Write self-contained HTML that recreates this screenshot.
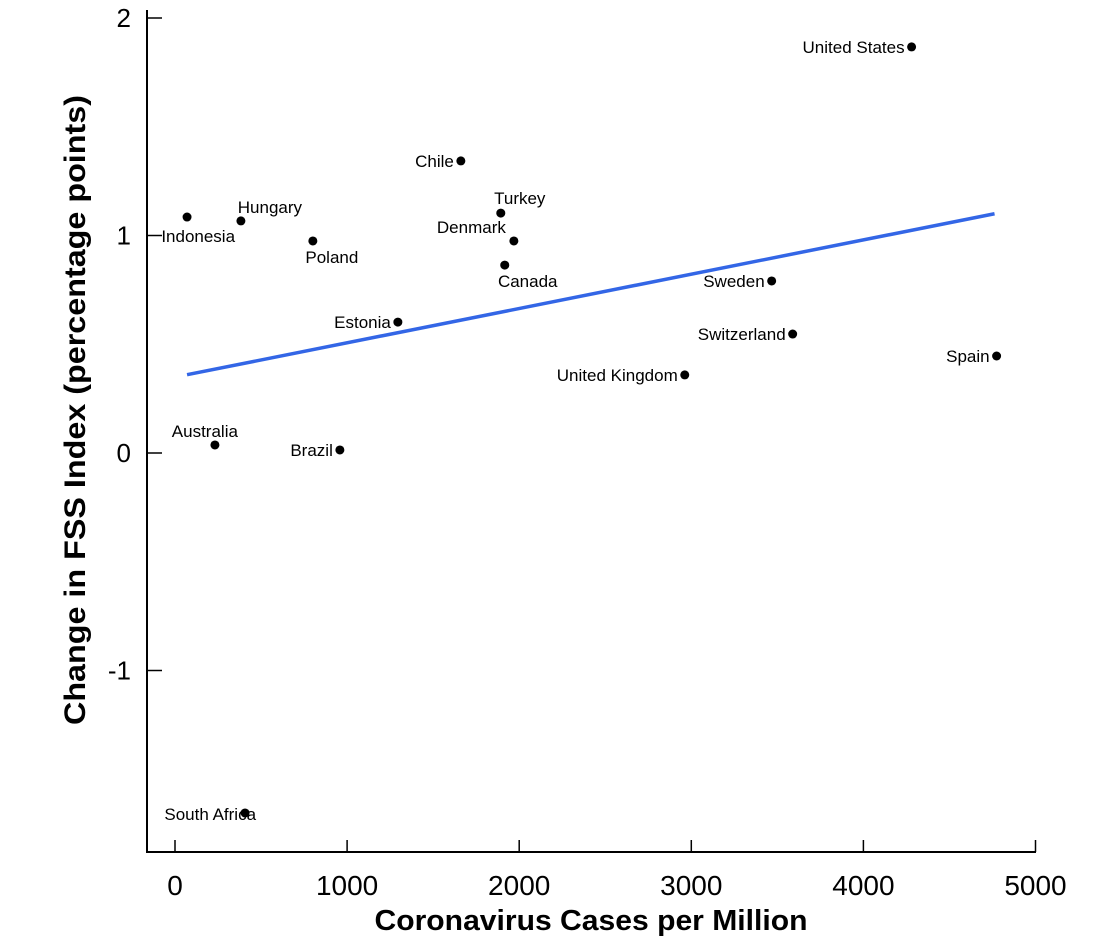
<!DOCTYPE html>
<html><head><meta charset="utf-8"><style>
body{margin:0;background:#fff}
svg{display:block;font-family:"Liberation Sans",Arial,sans-serif}
</style></head><body>
<svg id="chart" width="1100" height="948"></svg>
<script>
const countries=["United States","Chile","Turkey","Denmark","Canada","Indonesia","Hungary","Poland","Estonia","Sweden","Switzerland","Spain","United Kingdom","Australia","Brazil","South Africa"];
const casesPerMillion=[4280,1661,1893,1969,1916,70,383,801,1295,3467,3589,4774,2962,232,958,407];
const fssChange=[1.867,1.343,1.103,0.975,0.864,1.085,1.067,0.975,0.602,0.791,0.547,0.446,0.359,0.037,0.014,-1.655];
const labelPlace=["left","left","above","aboveleft","below","belowleft","above","below","left","left","left","left","left","aboveleft","left","left"];
const xTicks=[0,1000,2000,3000,4000,5000];
const yTicks=[2,1,0,-1];
const trendX=[70,4762];
const trendY=[0.36,1.10];

const NS="http://www.w3.org/2000/svg";
const svg=document.getElementById('chart');
const sx=v=>175+v*0.1721;
const sy=v=>453-v*217.5;
function mk(tag,attrs,parent){const e=document.createElementNS(NS,tag);for(const k in attrs)e.setAttribute(k,attrs[k]);(parent||svg).appendChild(e);return e;}

const ax=mk('line',{x1:147,y1:10,x2:147,y2:852,stroke:'#000','stroke-width':2});


const axx=mk('line',{x1:146,y1:852,x2:1036,y2:852,stroke:'#000','stroke-width':2});



xTicks.forEach(t=>{
  const l=mk('line',{x1:sx(t),y1:840,x2:sx(t),y2:852,stroke:'#000','stroke-width':1.5});
  
  
  const tx=mk('text',{x:sx(t),y:895,'text-anchor':'middle','font-size':28});
  tx.textContent=t;
  
  
});
yTicks.forEach(t=>{
  const l=mk('line',{x1:147,y1:sy(t),x2:162,y2:sy(t),stroke:'#000','stroke-width':1.5});
  
  
  const tx=mk('text',{x:131,y:sy(t)+9,'text-anchor':'end','font-size':26});
  tx.textContent=t;
  
  
});

const tl=mk('line',{x1:sx(trendX[0]),y1:sy(trendY[0]),x2:sx(trendX[1]),y2:sy(trendY[1]),stroke:'#3366e6','stroke-width':3.5});



countries.forEach((c,i)=>{
  const x=sx(casesPerMillion[i]),y=sy(fssChange[i]);
  const p=mk('circle',{cx:x,cy:y,r:4.5,fill:'#000'});
  
  
  let tx=x-7,ty=y+6,anc='end';
  const pl=labelPlace[i];
  if(pl==='above'){tx=x;ty=y-8;anc='middle';}
  else if(pl==='below'){tx=x+19;ty=y+22;anc='middle';}
  else if(pl==='aboveleft'){tx=x-8;ty=y-8;anc='end';}
  else if(pl==='belowleft'){tx=x+48;ty=y+25;anc='end';}
  if(c==='Canada'){tx=x+23;}
  if(c==='Poland'){tx=x+19;}
  if(c==='South Africa'){tx=x+11;ty=y+7;}
  if(c==='Australia'){tx=x+23;ty=y-8;}
  if(c==='Turkey'){tx=x+19;ty=y-9;}
  if(c==='Hungary'){tx=x+29;ty=y-8;}
  const t=mk('text',{x:tx,y:ty,'text-anchor':anc,'font-size':17});
  t.textContent=c;
  
  
});

const xt=mk('text',{x:591,y:930,'text-anchor':'middle','font-size':29,'font-weight':'bold',textLength:433,lengthAdjust:'spacingAndGlyphs'});
xt.textContent='Coronavirus Cases per Million';


const yt=mk('text',{x:0,y:0,'text-anchor':'middle','font-size':30,'font-weight':'bold',textLength:630,lengthAdjust:'spacingAndGlyphs',transform:'translate(85,410) rotate(-90)'});
yt.textContent='Change in FSS Index (percentage points)';


</script>
</body></html>
